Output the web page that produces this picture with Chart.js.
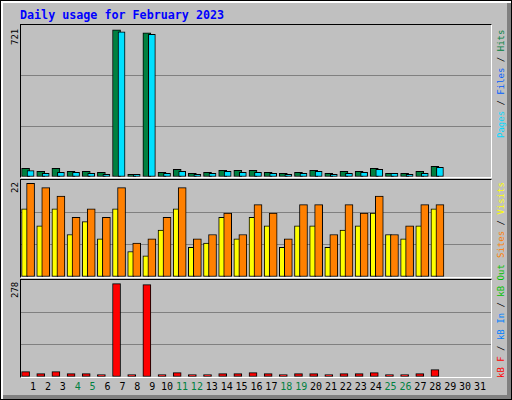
<!DOCTYPE html>
<html><head><meta charset="utf-8">
<script src="https://cdn.jsdelivr.net/npm/chart.js@4"></script>
<style>
body{margin:0;background:#fff;font-family:"DejaVu Sans Mono",monospace;}
#frame{position:absolute;left:0;top:0;width:510px;height:398px;border:1px solid #000;background:#c0c0c0;box-shadow:inset 2px 2px 0 #fff,inset -4px -4px 0 #808080;}
.panel{position:absolute;left:20px;width:470px;border-top:1px solid #000;border-left:1px solid #000;border-right:1px solid #fff;border-bottom:1px solid #fff;}
.panel canvas{display:block;}
.rot{position:absolute;transform:rotate(-90deg);transform-origin:top left;white-space:nowrap;font-size:9px;line-height:10px;}
#title{position:absolute;left:20px;top:8px;color:#0000ff;font-weight:bold;font-size:11.7px;}
.day{position:absolute;top:381px;font-size:10px;width:16px;text-align:center;}
</style></head><body>
<div id="frame"></div>
<div id="title">Daily usage for February 2023</div>
<div class="panel" style="top:24px;height:152px"><canvas id="c1" width="470" height="152"></canvas></div>
<div class="panel" style="top:179px;height:97px"><canvas id="c2" width="470" height="97"></canvas></div>
<div class="panel" style="top:279px;height:97px"><canvas id="c3" width="470" height="97"></canvas></div>
<div class="rot" id="l1" style="left:10px;top:45px"></div>
<div class="rot" id="l2" style="left:10px;top:193px"></div>
<div class="rot" id="l3" style="left:10px;top:298px"></div>
<div class="rot" style="left:496px;top:138px"><span style="color:#00d8ff">Pages</span> / <span style="color:#0060ff">Files</span> / <span style="color:#008040">Hits</span></div>
<div class="rot" style="left:496px;top:258px"><span style="color:#ff8000">Sites</span> / <span style="color:#ffff00">Visits</span></div>
<div class="rot" style="left:496px;top:378px"><span style="color:#ff0000">kB F</span> / <span style="color:#0080ff">kB In</span> / <span style="color:#00c000">kB Out</span></div>
<script>
const days=["1","2","3","4","5","6","7","8","9","10","11","12","13","14","15","16","17","18","19","20","21","22","23","24","25","26","27","28","29","30","31"];
const weekend=["4","5","11","12","18","19","25","26"];
const hits=[42,28,42,28,28,23,721,13,707,23,38,18,23,33,33,33,23,18,23,33,18,28,28,42,18,18,28,52];
const files=[31,18,23,23,18,13,712,13,699,18,28,13,18,28,23,23,18,13,18,28,13,18,23,38,18,13,18,47];
const visits=[16,12,16,10,13,9,16,6,5,11,16,7,8,14,9,14,12,7,12,12,7,11,12,15,10,9,12,16];
const sites=[22,21,19,14,16,14,21,8,9,14,21,9,10,15,10,17,15,9,17,17,10,17,15,19,10,12,17,17];
const kbytes=[16,10,16,10,10,7,278,7,275,7,13,7,7,10,10,13,10,7,10,10,7,10,10,13,7,7,10,22];

const shift={id:'shift',afterDatasetsUpdate(ch){ch.data.datasets.forEach((d,i)=>{const m=ch.getDatasetMeta(i);m.data.forEach(e=>{e.x+=d.dx||0;});});}};
function mk(id,sets,max){
  new Chart(document.getElementById(id),{type:'bar',data:{labels:days,datasets:sets.map(s=>Object.assign({borderColor:'#000',borderWidth:1,grouped:false,borderSkipped:false},s))},
  options:{animation:false,responsive:false,events:[],layout:{padding:0},plugins:{legend:{display:false},tooltip:{enabled:false}},
  scales:{x:{display:false,offset:true},y:{min:0,max:max,ticks:{display:false,stepSize:max/3},border:{display:false},
  grid:{color:c=>(c.index===1||c.index===2)?'#808080':'rgba(0,0,0,0)',lineWidth:1,drawTicks:false}}}},plugins:[shift]});
}
mk('c1',[{data:hits,backgroundColor:'#008040',barThickness:8,dx:-3,order:2},{data:files,backgroundColor:'#00e0ff',barThickness:7,dx:2,order:1}],745);
mk('c2',[{data:visits,backgroundColor:'#ffff00',barThickness:6,dx:-4,order:2},{data:sites,backgroundColor:'#ff8000',barThickness:8,dx:2,order:1}],22.8);
mk('c3',[{data:kbytes,backgroundColor:'#ff0000',barThickness:8,dx:-3}],289);
document.getElementById('l1').textContent=Math.max(...hits);
document.getElementById('l2').textContent=Math.max(...sites);
document.getElementById('l3').textContent=Math.max(...kbytes);
days.forEach((d,i)=>{const s=document.createElement('div');s.className='day';s.textContent=d;s.style.left=(33+14.9*i-8)+'px';s.style.color=weekend.includes(d)?'#008040':'#000';document.body.appendChild(s);});
</script></body></html>
